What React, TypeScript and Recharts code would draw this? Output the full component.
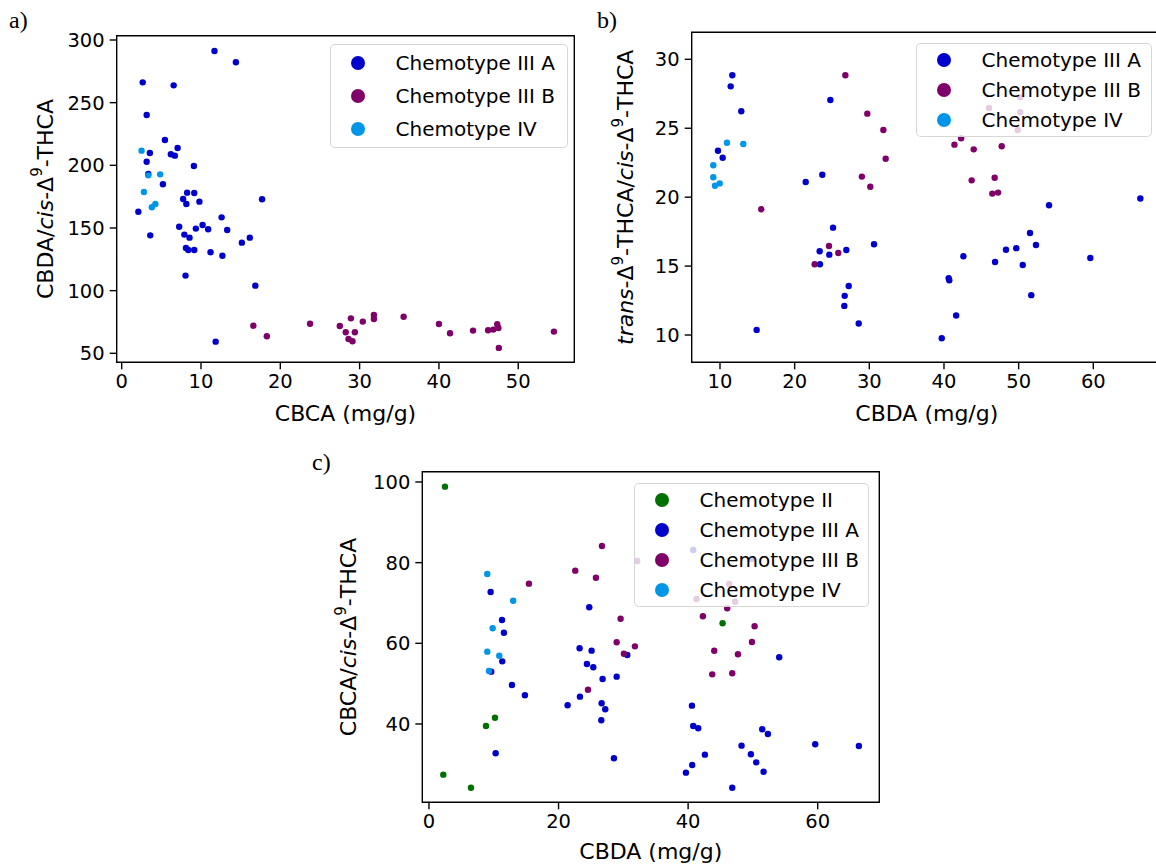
import React from 'react';
import { ScatterChart, Scatter, XAxis, YAxis, Legend, ReferenceArea } from 'recharts';

type Pt = [number, number];

const FONT = 'DejaVu Sans';
const COLORS: Record<string, string> = {
  II: '#007000',
  IIIA: '#0000CC',
  IIIB: '#80006A',
  IV: '#0096E8',
};
const NAMES: Record<string, string> = {
  II: 'Chemotype II',
  IIIA: 'Chemotype III A',
  IIIB: 'Chemotype III B',
  IV: 'Chemotype IV',
};

// a) CBCA (mg/g) vs CBDA/cis-THCA
const A_IIIA: Pt[] = [
  [11.7, 291.2], [14.4, 282.2], [2.65, 266.2], [6.55, 263.8], [3.15, 240.2], [5.45, 220.2],
  [7.05, 213.8], [3.55, 209.8], [6.2, 208.8], [6.7, 207.7], [9.1, 199.5], [3.15, 202.9],
  [3.35, 193.1], [5.2, 184.9], [8.25, 178.2], [9.15, 177.9], [7.75, 173.1], [8.15, 169.1],
  [9.8, 171], [17.7, 172.9], [2.1, 163], [12.6, 158.5], [7.25, 151], [10.2, 152.4],
  [9.35, 149.5], [10.9, 149], [13.3, 148.4], [3.6, 144.1], [7.9, 144.7], [8.55, 142.3],
  [16.15, 142.3], [15.15, 138.3], [8.1, 134], [8.4, 132.4], [9.15, 132.4], [11.2, 130.6],
  [12.7, 127.9], [8.05, 112], [16.85, 104], [11.85, 59.3],
];
const A_IIIB: Pt[] = [
  [16.6, 72], [18.3, 63.6], [23.75, 73.6], [27.5, 71.8], [28.9, 77.9], [28.25, 66.8],
  [29.4, 66.8], [28.6, 61.4], [29.1, 59.6], [30.4, 75.3], [31.8, 80.6], [31.8, 77.4],
  [35.55, 79.2], [40, 73.4], [41.4, 66], [44.3, 68.1], [46.2, 68.4], [46.85, 68.9],
  [47.35, 73.2], [47.5, 70.2], [47.55, 54.3], [54.5, 67.3],
];
const A_IV: Pt[] = [
  [2.5, 211.7], [3.35, 192], [4.85, 192.8], [2.8, 178.7], [4.25, 169.1], [3.8, 166.5],
];
const A_XTICKS = [0, 10, 20, 30, 40, 50];
const A_YTICKS = [50, 100, 150, 200, 250, 300];

// b) CBDA (mg/g) vs trans-THCA/cis-THCA
const B_IIIA: Pt[] = [
  [11.65, 28.84], [11.43, 28.04], [12.85, 26.23], [9.73, 23.37], [10.36, 22.86], [24.78, 27.05],
  [23.7, 21.63], [21.48, 21.1], [25.14, 17.79], [30.63, 16.58], [23.35, 16.08], [24.64, 15.83],
  [26.92, 16.17], [23.39, 15.13], [27.24, 13.56], [26.7, 12.84], [26.65, 12.11], [28.58, 10.83],
  [14.91, 10.37], [54.07, 19.41], [66.3, 19.9], [51.52, 17.4], [52.32, 16.53], [48.3, 16.19],
  [49.68, 16.3], [42.6, 15.71], [46.84, 15.3], [50.55, 15.08], [59.6, 15.59], [40.63, 14.12],
  [40.71, 13.97], [51.69, 12.89], [41.63, 11.41], [39.7, 9.77],
];
const B_IIIB: Pt[] = [
  [26.79, 28.84], [29.73, 26.06], [31.88, 24.87], [32.19, 22.79], [29.0, 21.49], [30.13, 20.76],
  [15.53, 19.12], [24.6, 16.46], [25.84, 15.95], [22.68, 15.13], [43.71, 21.22], [46.79, 21.41],
  [46.47, 20.26], [47.24, 20.33], [41.4, 23.81], [42.3, 24.27], [43.98, 23.47], [47.73, 23.69],
  [46.03, 26.47], [50.22, 27.24], [50.22, 26.16], [49.87, 24.87],
];
const B_IV: Pt[] = [
  [10.94, 23.95], [13.12, 23.86], [9.1, 22.31], [9.1, 21.44], [9.33, 20.83], [9.96, 21.0],
];
const B_XTICKS = [10, 20, 30, 40, 50, 60];
const B_YTICKS = [10, 15, 20, 25, 30];

// c) CBDA (mg/g) vs CBCA/cis-THCA
const C_II: Pt[] = [
  [2.47, 98.84], [10.19, 41.56], [8.8, 39.5], [2.21, 27.43], [6.48, 24.2], [45.32, 64.96],
];
const C_IIIA: Pt[] = [
  [9.52, 72.73], [11.27, 65.78], [11.57, 62.63], [11.31, 55.53], [9.61, 52.97], [12.81, 49.67],
  [14.81, 47.11], [10.29, 32.73], [24.74, 68.93], [23.25, 58.76], [25.1, 58.18], [24.38, 54.87],
  [25.36, 54.05], [26.8, 51.15], [28.97, 51.73], [30.61, 57.1], [23.3, 46.77], [21.4, 44.63],
  [26.65, 45.13], [27.21, 43.64], [26.6, 40.91], [28.55, 31.5], [54.06, 56.53], [40.59, 44.54],
  [40.79, 39.5], [41.56, 38.93], [51.44, 38.68], [52.31, 37.52], [48.25, 34.62], [59.62, 34.96],
  [66.36, 34.54], [42.59, 32.39], [49.69, 32.48], [50.51, 30.49], [40.63, 29.83], [39.66, 27.93],
  [51.65, 28.17], [46.81, 24.2], [40.79, 83.14], [49.8, 80.9],
];
const C_IIIB: Pt[] = [
  [26.7, 84.13], [22.58, 78.01], [25.77, 76.27], [15.43, 74.79], [29.58, 66.1], [28.97, 60.25],
  [31.79, 59.25], [30.09, 57.43], [24.54, 48.5], [46.04, 68.68], [42.28, 66.7], [50.26, 64.22],
  [49.85, 60.33], [44.03, 58.17], [47.69, 57.27], [43.72, 52.31], [46.81, 52.56], [32.15, 80.41],
  [46.35, 74.7], [41.3, 71.0], [47.27, 70.3],
];
const C_IV: Pt[] = [
  [9.0, 77.19], [13.0, 70.57], [9.83, 63.72], [9.0, 57.93], [10.85, 56.93], [9.26, 53.13],
];
const C_XTICKS = [0, 20, 40, 60];
const C_YTICKS = [40, 60, 80, 100];

type Part = { t: string; i?: boolean; sup?: boolean };

const renderParts = (parts: Part[], size: number) => {
  const out: React.ReactNode[] = [];
  let raised = false;
  parts.forEach((p, k) => {
    let dy: number | undefined;
    if (p.sup && !raised) { dy = -size * 0.34; raised = true; }
    else if (!p.sup && raised) { dy = size * 0.34; raised = false; }
    out.push(
      <tspan key={k} dy={dy} fontStyle={p.i ? 'italic' : 'normal'} fontSize={p.sup ? size * 0.68 : size}>
        {p.t}
      </tspan>
    );
  });
  return out;
};

const XTitle = ({ viewBox, parts, dist }: any) => {
  const { x, y, width } = viewBox;
  return (
    <text x={x + width / 2} y={y + dist} textAnchor="middle" dominantBaseline="central"
      fontFamily={FONT} fontSize={22} fill="#000">
      {renderParts(parts, 22)}
    </text>
  );
};

const YTitle = ({ viewBox, parts, dist }: any) => {
  const { x, y, width, height } = viewBox;
  const cx = x + width - dist;
  const cy = y + height / 2;
  return (
    <text x={cx} y={cy} transform={`rotate(-90, ${cx}, ${cy})`} textAnchor="middle"
      dominantBaseline="central" fontFamily={FONT} fontSize={22} fill="#000">
      {renderParts(parts, 22)}
    </text>
  );
};

const legendContent = (rowH: number) => (props: any) => (
  <div>
    {(props.payload || []).map((e: any) => (
      <div key={e.value} style={{ display: 'flex', alignItems: 'center', height: rowH }}>
        <svg width={14} height={14} style={{ marginLeft: 20, flex: 'none' }}>
          <circle cx={7} cy={7} r={7} fill={e.color} />
        </svg>
        <span style={{ marginLeft: 30.5, fontSize: 20, fontFamily: FONT, color: '#000', whiteSpace: 'nowrap' }}>
          {e.value}
        </span>
      </div>
    ))}
  </div>
);

type PanelProps = {
  left: number; top: number; width: number; height: number;
  margin: { top: number; right: number; bottom: number; left: number };
  xDomain: [number, number]; yDomain: [number, number];
  xTicks: number[]; yTicks: number[];
  series: { key: string; data: Pt[] }[];
  xTitle: Part[]; yTitle: Part[]; xDist: number; yDist: number;
  legend: { left: number; top: number; width: number; height: number; rowH: number; pad: number };
};

const tickStyle = { fill: '#000', fontSize: 19.5, fontFamily: FONT };

const Panel = (p: PanelProps) => (
  <div style={{ position: 'absolute', left: p.left, top: p.top }}>
    <ScatterChart width={p.width} height={p.height} margin={p.margin}>
      <XAxis type="number" dataKey="x" domain={p.xDomain} ticks={p.xTicks} allowDataOverflow
        interval={0} height={30} axisLine={false} tickSize={7} tickMargin={5}
        tickLine={{ stroke: '#000', strokeWidth: 1.4 }} tick={tickStyle}
        label={<XTitle parts={p.xTitle} dist={p.xDist} />} />
      <YAxis type="number" dataKey="y" domain={p.yDomain} ticks={p.yTicks} allowDataOverflow
        interval={0} width={60} axisLine={false} tickSize={7} tickMargin={5}
        tickLine={{ stroke: '#000', strokeWidth: 1.4 }} tick={tickStyle}
        label={<YTitle parts={p.yTitle} dist={p.yDist} />} />
      <ReferenceArea x1={p.xDomain[0]} x2={p.xDomain[1]} y1={p.yDomain[0]} y2={p.yDomain[1]}
        ifOverflow="visible" fill="none" stroke="#000" strokeWidth={1.4} />
      {p.series.map((s) => (
        <Scatter key={s.key} name={NAMES[s.key]} data={s.data.map(([x, y]) => ({ x, y }))}
          fill={COLORS[s.key]} isAnimationActive={false}
          shape={(d: any) => <circle cx={d.cx} cy={d.cy} r={3.2} fill={COLORS[s.key]} />} />
      ))}
      <Legend layout="horizontal" align="center" verticalAlign="middle" content={legendContent(p.legend.rowH)}
        wrapperStyle={{
          left: p.legend.left, top: p.legend.top, width: p.legend.width, height: p.legend.height,
          background: 'rgba(255,255,255,0.8)', border: '1px solid rgba(204,204,204,0.8)',
          borderRadius: 5, boxSizing: 'border-box', paddingTop: p.legend.pad, margin: 0,
        }} />
    </ScatterChart>
  </div>
);

const panelLabel = { position: 'absolute' as const, fontFamily: 'Liberation Serif', fontSize: 24, lineHeight: 1, color: '#000' };

export default function App() {
  return (
    <div style={{ position: 'absolute', left: 0, top: 0, width: 1156, height: 866, overflow: 'hidden', background: '#fff', fontFamily: FONT }}>
      <Panel left={0} top={0} width={600} height={440}
        margin={{ top: 35.7, right: 25.7, bottom: 47.7, left: 56.7 }}
        xDomain={[-0.63, 57.07]} yDomain={[42.82, 303.43]}
        xTicks={A_XTICKS} yTicks={A_YTICKS}
        series={[{ key: 'IIIA', data: A_IIIA }, { key: 'IIIB', data: A_IIIB }, { key: 'IV', data: A_IV }]}
        xTitle={[{ t: 'CBCA (mg/g)' }]}
        yTitle={[{ t: 'CBDA/' }, { t: 'cis', i: true }, { t: '-Δ' }, { t: '9', sup: true }, { t: '-THCA' }]}
        xDist={50.7} yDist={72.2}
        legend={{ left: 330, top: 44, width: 238, height: 104, rowH: 33, pad: 1.5 }} />
      <Panel left={580} top={0} width={600} height={440}
        margin={{ top: 32.3, right: 18, bottom: 47.7, left: 51.7 }}
        xDomain={[6.21, 69.2]} yDomain={[8.02, 31.96]}
        xTicks={B_XTICKS} yTicks={B_YTICKS}
        series={[{ key: 'IIIA', data: B_IIIA }, { key: 'IIIB', data: B_IIIB }, { key: 'IV', data: B_IV }]}
        xTitle={[{ t: 'CBDA (mg/g)' }]}
        yTitle={[{ t: 'trans', i: true }, { t: '-Δ' }, { t: '9', sup: true }, { t: '-THCA/' }, { t: 'cis', i: true }, { t: '-Δ' }, { t: '9', sup: true }, { t: '-THCA' }]}
        xDist={50.7} yDist={66.7}
        legend={{ left: 336, top: 42.7, width: 235.7, height: 94.6, rowH: 30, pad: 1.3 }} />
      <Panel left={300} top={440} width={600} height={426}
        margin={{ top: 31.7, right: 20.7, bottom: 33.7, left: 62.3 }}
        xDomain={[-1.03, 69.51]} yDomain={[20.58, 102.55]}
        xTicks={C_XTICKS} yTicks={C_YTICKS}
        series={[{ key: 'II', data: C_II }, { key: 'IIIA', data: C_IIIA }, { key: 'IIIB', data: C_IIIB }, { key: 'IV', data: C_IV }]}
        xTitle={[{ t: 'CBDA (mg/g)' }]}
        yTitle={[{ t: 'CBCA/' }, { t: 'cis', i: true }, { t: '-Δ' }, { t: '9', sup: true }, { t: '-THCA' }]}
        xDist={48.7} yDist={74}
        legend={{ left: 334, top: 42.7, width: 235.3, height: 124, rowH: 30, pad: 1.3 }} />
      <div style={{ ...panelLabel, left: 9, top: 8 }}>a)</div>
      <div style={{ ...panelLabel, left: 597, top: 8 }}>b)</div>
      <div style={{ ...panelLabel, left: 312, top: 450 }}>c)</div>
    </div>
  );
}
